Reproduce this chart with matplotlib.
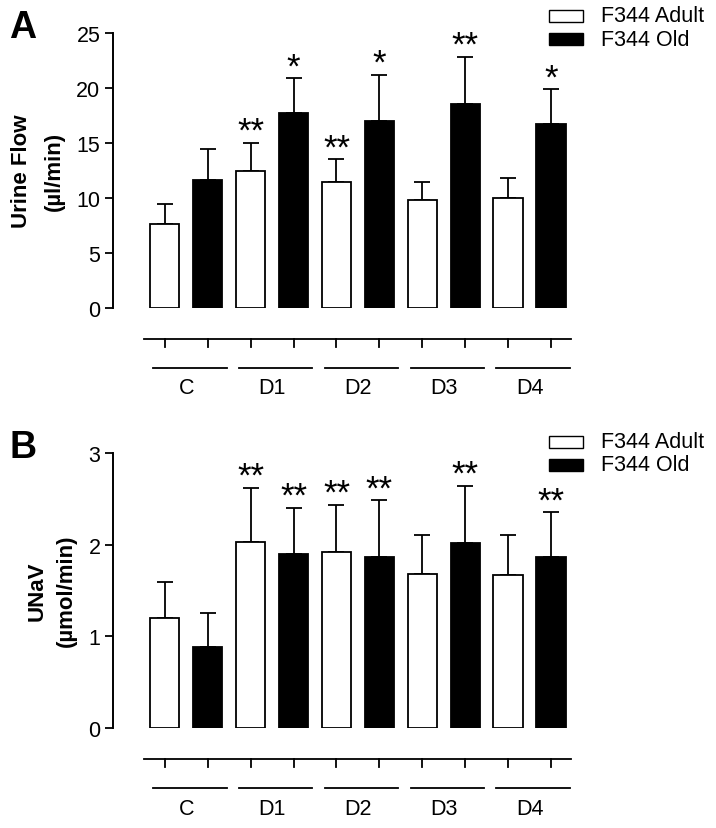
import numpy as np
import matplotlib
matplotlib.use('Agg')
import matplotlib.pyplot as plt
from matplotlib.patches import Rectangle

plt.rcParams['font.family'] = ['Liberation Sans', 'DejaVu Sans']

# data
groups = ['C', 'D1', 'D2', 'D3', 'D4']
series = ['F344 Adult', 'F344 Old']

flow_adult = [7.6, 12.4, 11.4, 9.8, 10.0]
flow_adult_err = [1.8, 2.6, 2.1, 1.65, 1.8]
flow_old = [11.6, 17.7, 17.0, 18.5, 16.75]
flow_old_err = [2.8, 3.15, 4.2, 4.3, 3.1]
flow_adult_sig = ['', '**', '**', '', '']
flow_old_sig = ['', '*', '*', '**', '*']

unav_adult = [1.20, 2.03, 1.92, 1.68, 1.67]
unav_adult_err = [0.39, 0.59, 0.51, 0.42, 0.43]
unav_old = [0.89, 1.90, 1.86, 2.02, 1.87]
unav_old_err = [0.37, 0.50, 0.62, 0.62, 0.48]
unav_adult_sig = ['', '**', '**', '', '']
unav_old_sig = ['', '**', '**', '**', '**']

W, H = 716, 829
fig = plt.figure(figsize=(W / 100, H / 100), dpi=100)


def fx(px):
    return px / W


def fy(py):
    return 1 - py / H


def panel(top_px, bot_px, adult, adult_err, old, old_err, adult_sig, old_sig,
          ymax, yticks, letter, lab1, lab2, lab_x1, lab_x2, lab_y, leg_top):
    ax = fig.add_axes([fx(113), fy(bot_px), fx(575) - fx(113), fy(top_px) - fy(bot_px)])
    n = len(groups)
    xa = np.arange(n) * 2
    xo = xa + 1
    bw = 0.68
    ax.bar(xa, adult, bw, facecolor='white', edgecolor='black', linewidth=1.3, zorder=2)
    ax.bar(xo, old, bw, facecolor='black', edgecolor='black', linewidth=1.3, zorder=2)
    ax.errorbar(xa, adult, yerr=[np.zeros(n), adult_err], fmt='none', ecolor='black',
                elinewidth=1.3, capsize=5.5, capthick=1.3, zorder=1)
    ax.errorbar(xo, old, yerr=[np.zeros(n), old_err], fmt='none', ecolor='black',
                elinewidth=1.3, capsize=5.5, capthick=1.3, zorder=1)

    # significance stars
    for xs, vals, errs, sig in [(xa, adult, adult_err, adult_sig), (xo, old, old_err, old_sig)]:
        for x, v, e, s in zip(xs, vals, errs, sig):
            if s:
                ax.annotate(s, (x, v + e), xytext=(0, 1.5), textcoords='offset points',
                            ha='center', va='baseline', fontsize=25, annotation_clip=False)

    ax.set_xlim(-1.21, 9.56)
    ax.set_ylim(0, ymax)
    ax.set_yticks(yticks)
    ax.tick_params(axis='y', direction='out', length=6, width=1.3, labelsize=15.5, pad=3)
    ax.set_xticks([])
    for s in ['top', 'right', 'bottom']:
        ax.spines[s].set_visible(False)
    ax.spines['left'].set_linewidth(1.4)

    # lower axis line with ticks and group bars
    h_px = bot_px - top_px
    tr = ax.get_xaxis_transform()
    y_line = -31 / h_px
    y_tick = -39 / h_px
    y_grp = -60 / h_px
    y_lab = -80 / h_px
    ax.plot([-0.49, 9.46], [y_line, y_line], color='black', lw=1.3, transform=tr, clip_on=False)
    for x in np.concatenate([xa, xo]):
        ax.plot([x, x], [y_line, y_tick], color='black', lw=1.3, transform=tr, clip_on=False)
    for i, g in enumerate(groups):
        ax.plot([xa[i] - 0.27, xo[i] + 0.44], [y_grp, y_grp], color='black', lw=1.3,
                transform=tr, clip_on=False)
        ax.text(xa[i] + 0.5, y_lab, g, transform=tr, ha='center', va='center', fontsize=15.5)

    # y label (two lines)
    fig.text(fx(lab_x1), fy(lab_y), lab1, rotation=90, rotation_mode='anchor',
             ha='center', va='baseline', fontsize=16, fontweight='bold')
    fig.text(fx(lab_x2), fy(lab_y), lab2, rotation=90, rotation_mode='anchor',
             ha='center', va='baseline', fontsize=16, fontweight='bold')

    # panel letter
    fig.text(fx(9), fy(top_px - 33 + 37), letter, fontsize=27, fontweight='bold',
             ha='left', va='baseline')

    # legend
    for k, (name, fc) in enumerate(zip(series, ['white', 'black'])):
        y0 = leg_top + k * 23
        fig.add_artist(Rectangle((fx(549), fy(y0 + 12)), fx(583) - fx(549), (12) / H,
                                 facecolor=fc, edgecolor='black', linewidth=1.0,
                                 transform=fig.transFigure))
        fig.text(fx(601), fy(y0 + 6), name, fontsize=15.5, ha='left', va='center')
    return ax


panel(33.7, 309, flow_adult, flow_adult_err, flow_old, flow_old_err,
      flow_adult_sig, flow_old_sig, 25, [0, 5, 10, 15, 20, 25], 'A',
      'Urine Flow', '(µl/min)', 27, 60, 171, 11)
panel(453.7, 729.3, unav_adult, unav_adult_err, unav_old, unav_old_err,
      unav_adult_sig, unav_old_sig, 3, [0, 1, 2, 3], 'B',
      'UNaV', '(µmol/min)', 43, 72, 591, 437)

fig.savefig('out.png', dpi=100)
